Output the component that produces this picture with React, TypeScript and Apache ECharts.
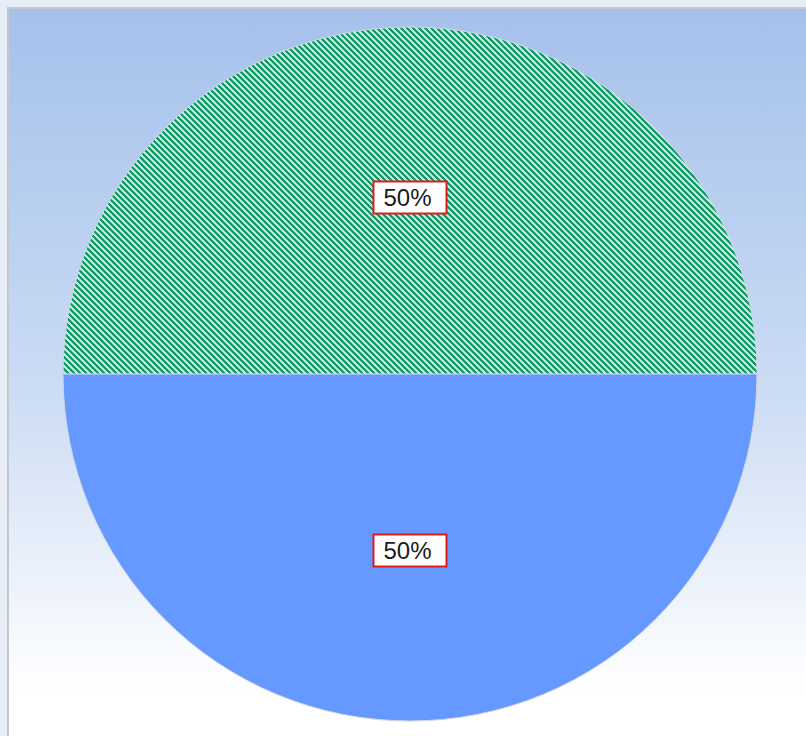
import React, { useEffect, useRef } from "react";
import * as echarts from "echarts";

const categories = ["A", "B"];
const values = [50, 50];
const labels = ["50%", "50%"];

function makeHatch(): HTMLCanvasElement {
  const n = 6;
  const c = document.createElement("canvas");
  c.width = n;
  c.height = n;
  const ctx = c.getContext("2d")!;
  for (let y = 0; y < n; y++) {
    for (let x = 0; x < n; x++) {
      const k = (((x - y) % n) + n) % n;
      ctx.fillStyle = k < 3 ? "#11996a" : "#c9e3d9";
      ctx.fillRect(x, y, 1, 1);
    }
  }
  return c;
}

export default function App() {
  const ref = useRef<HTMLDivElement>(null);
  useEffect(() => {
    document.body.style.margin = "0";
    const chart = echarts.init(ref.current!, null, { renderer: "svg" });
    const hatch = makeHatch();
    chart.setOption({
      animation: false,
      backgroundColor: "#e6edf7",
      graphic: [
        {
          type: "rect",
          z: -10,
          shape: { x: 8, y: 8, width: 820, height: 760 },
          style: {
            fill: {
              type: "linear",
              x: 0,
              y: 0,
              x2: 0,
              y2: 1,
              global: false,
              colorStops: [
                { offset: 0, color: "#a5c1eb" },
                { offset: 0.5, color: "#cbdcf4" },
                { offset: 0.9, color: "#ffffff" },
                { offset: 1, color: "#ffffff" },
              ],
            },
            stroke: "#c4c8d0",
            lineWidth: 2,
          },
          silent: true,
        },
      ],
      series: [
        {
          type: "pie",
          center: [410, 374],
          radius: 347,
          startAngle: 180,
          clockwise: true,
          label: {
            show: true,
            position: "inside",
            formatter: (p: any) => labels[p.dataIndex],
            fontFamily: "Liberation Sans, Arial, sans-serif",
            fontSize: 24,
            color: "#1a1a1a",
            backgroundColor: "#ffffff",
            borderColor: "#e01a1a",
            borderWidth: 2,
            padding: [3, 14, 3, 9],
          },
          labelLine: { show: false },
          emphasis: { disabled: true },
          itemStyle: { borderColor: "#d0d6e0", borderWidth: 1 },
          data: categories.map((c, i) => ({
            name: c,
            value: values[i],
            itemStyle: {
              color: i === 0 ? { image: hatch, repeat: "repeat" } : "#6699ff",
            },
          })),
        },
      ],
    });
    return () => chart.dispose();
  }, []);
  return (
    <div
      ref={ref}
      style={{ position: "absolute", left: 0, top: 0, width: 806, height: 736 }}
    />
  );
}
